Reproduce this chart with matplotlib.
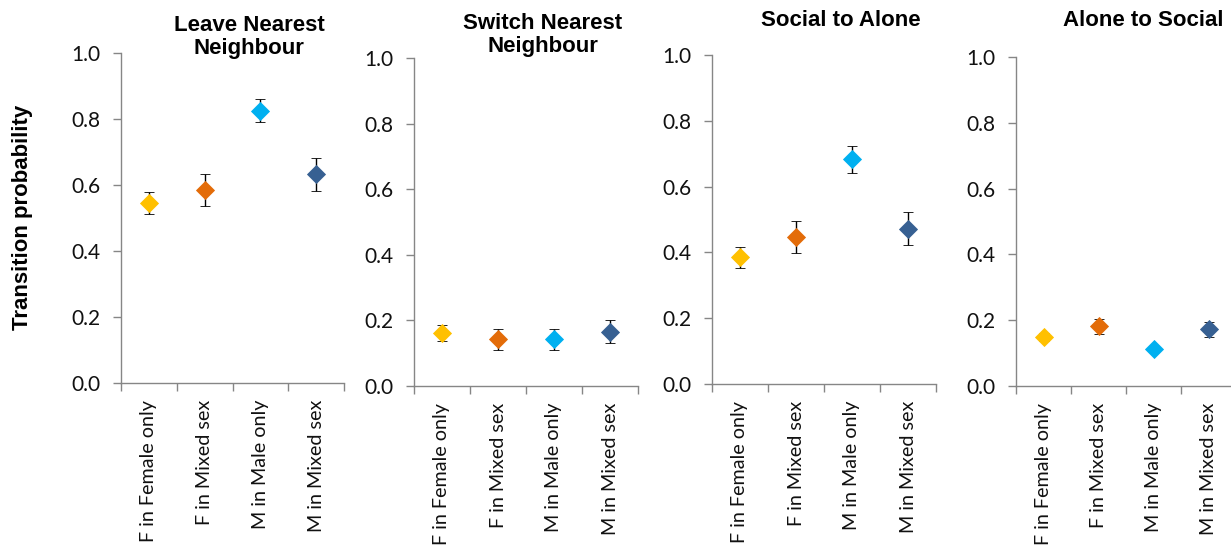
import matplotlib

matplotlib.use("Agg")
import matplotlib.pyplot as plt
from matplotlib.ticker import FixedLocator, NullFormatter

# groups and marker colours shared by every panel
groups = ["F in Female only", "F in Mixed sex", "M in Male only", "M in Mixed sex"]
group_colors = ["#FFC000", "#E36C09", "#00B0F0", "#376092"]

titles = ["Leave Nearest\nNeighbour", "Switch Nearest\nNeighbour", "Social to Alone", "Alone to Social"]

# mean transition probability and error per group
leave_nn = [0.545, 0.585, 0.825, 0.633]
leave_nn_err = [0.034, 0.048, 0.035, 0.050]
switch_nn = [0.161, 0.142, 0.142, 0.166]
switch_nn_err = [0.025, 0.032, 0.032, 0.036]
social_alone = [0.385, 0.447, 0.683, 0.472]
social_alone_err = [0.031, 0.049, 0.041, 0.051]
alone_social = [0.148, 0.181, 0.112, 0.172]
alone_social_err = [0.012, 0.024, 0.004, 0.022]

panels = [
    (leave_nn, leave_nn_err),
    (switch_nn, switch_nn_err),
    (social_alone, social_alone_err),
    (alone_social, alone_social_err),
]

W, H = 1231, 550
# axes boxes in pixels: left, top, right, bottom
boxes = [
    (121, 53, 344, 383),
    (414, 58, 638, 386),
    (712, 55, 936, 384),
    (1016, 57, 1236, 386),
]
# title centres in pixels
title_pos = [(249, 37), (543, 35), (841, 21), (1143, 21)]

axis_grey = "#868686"
tick_font = "Lato"
head_font = ["Liberation Sans", "DejaVu Sans"]

fig = plt.figure(figsize=(W / 100, H / 100), dpi=100)

for (vals, errs), box, title, tpos in zip(panels, boxes, titles, title_pos):
    l, t, r, b = box
    ax = fig.add_axes([l / W, 1 - b / H, (r - l) / W, (b - t) / H])
    x = [i + 0.5 for i in range(len(groups))]
    for xi, v, e, c in zip(x, vals, errs, group_colors):
        ax.errorbar(xi, v, yerr=e, fmt="D", color=c, markersize=9,
                    markeredgecolor=c, markeredgewidth=0.6,
                    ecolor="black", elinewidth=1.0, capsize=3.6, capthick=1.0,
                    zorder=3)

    ax.set_xlim(0, 4)
    ax.set_ylim(0, 1.0)
    ax.set_yticks([0, 0.2, 0.4, 0.6, 0.8, 1.0])
    ax.set_yticklabels(["0.0", "0.2", "0.4", "0.6", "0.8", "1.0"],
                       fontsize=15, family=tick_font, color="#111111")

    # boundaries between categories carry the tick marks, labels sit at centres
    ax.xaxis.set_major_locator(FixedLocator([0, 1, 2, 3, 4]))
    ax.xaxis.set_major_formatter(NullFormatter())
    ax.set_xticks(x, minor=True)
    ax.set_xticklabels(groups, minor=True, rotation=90, fontsize=14.2,
                       family=tick_font, color="#111111", va="top", ha="center")
    ax.tick_params(axis="x", which="minor", length=0, pad=12)
    ax.tick_params(axis="x", which="major", direction="out", length=6,
                   width=1, color=axis_grey)
    ax.tick_params(axis="y", direction="out", length=6, width=1,
                   color=axis_grey, pad=9)

    for side in ["top", "right"]:
        ax.spines[side].set_visible(False)
    for side in ["left", "bottom"]:
        ax.spines[side].set_color(axis_grey)
        ax.spines[side].set_linewidth(1)

    fig.text(tpos[0] / W, 1 - tpos[1] / H, title, ha="center", va="center",
             fontsize=16, fontweight="bold", family=head_font, linespacing=1.1)

fig.text(23 / W, 1 - 217 / H, "Transition probability", rotation=90,
         ha="center", va="center", fontsize=16, fontweight="bold",
         family=head_font)

fig.savefig("out.png", dpi=100, facecolor="white")
